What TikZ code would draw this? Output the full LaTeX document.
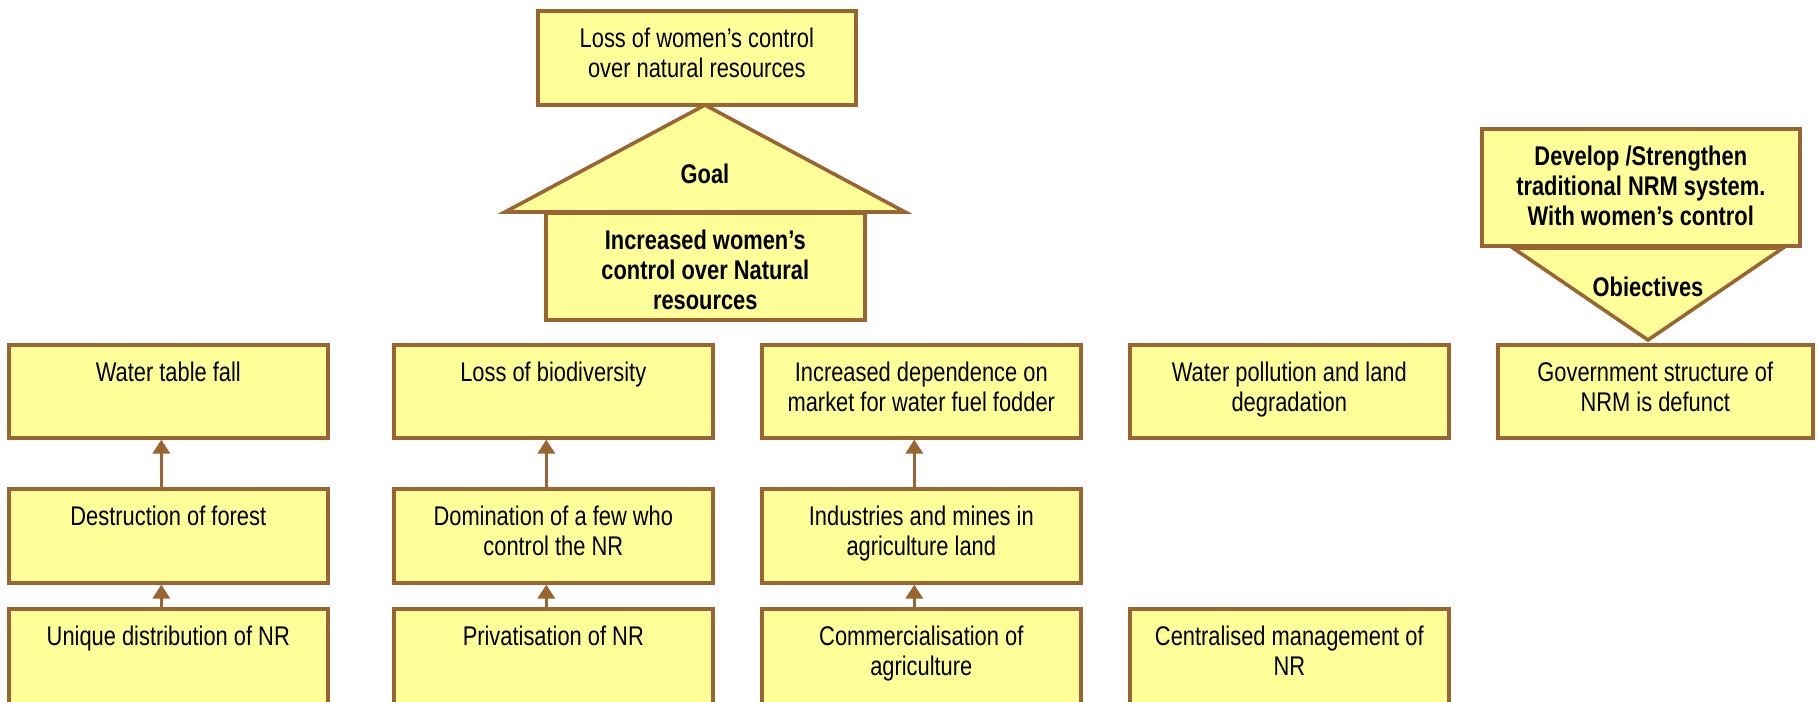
\documentclass[tikz,border=0pt]{standalone}
\usepackage{fontspec}
\setmainfont{Liberation Sans}[FakeStretch=0.81]
\usetikzlibrary{arrows.meta}
\definecolor{boxfill}{HTML}{FFFF99}
\definecolor{boxline}{HTML}{996633}
\newcommand{\topstrut}{\rule{0pt}{9.8pt}}
\begin{document}
\begin{tikzpicture}[x=0.5pt,y=-0.5pt,
  box/.style={draw=boxline, fill=boxfill, line width=1.8pt, inner sep=0pt,
              anchor=north west, minimum width=159.5pt},
  txt/.style={anchor=north, align=center, inner sep=0pt,
              font=\fontsize{13.5}{15}\selectfont},
  btxt/.style={txt, font=\fontsize{13.5}{15}\selectfont\bfseries},
  tri/.style={draw=boxline, fill=boxfill, line width=1.8pt, line join=miter},
  link/.style={draw=boxline, line width=1.8pt,
               -{Triangle[width=8.5pt,length=7pt]}}]
\useasboundingbox (0,0) rectangle (1817,702);

% goal triangle behind the boxes
\path[tri] (505,212) -- (705,105) -- (905,212) -- cycle;
% objectives triangle behind the boxes
\path[tri] (1513,248) -- (1648,340) -- (1783,248) -- cycle;

% goal block
\node[box, minimum width=159pt, minimum height=47pt] (top) at (536,9) {};
\node[txt] (top-t) at ([yshift=-9pt]top.north) {\topstrut Loss of women’s control\\over natural resources};
\node[box, minimum height=53.5pt] (goal) at (544,211) {};
\node[btxt] (goal-t) at ([yshift=-9pt]goal.north) {\topstrut Increased women’s\\control over Natural\\resources};
\node[anchor=base, inner sep=0pt, font=\fontsize{13.5}{15}\selectfont\bfseries] (goal-l) at (705,183) {Goal};

% objectives block
\node[box, minimum width=159pt, minimum height=58.5pt] (obj) at (1480,127) {};
\node[btxt] (obj-t) at ([yshift=-9pt]obj.north) {\topstrut Develop /Strengthen\\traditional NRM system.\\With women’s control};
\node[anchor=base, inner sep=0pt, font=\fontsize{13.5}{15}\selectfont\bfseries] (obj-l) at (1648,296) {Obiectives};

% row of problems
\node[box, minimum height=46.5pt] (p1) at (7,343) {};
\node[txt] (p1-t) at ([yshift=-9pt]p1.north) {\topstrut Water table fall};
\node[box, minimum height=46.5pt] (p2) at (392,343) {};
\node[txt] (p2-t) at ([yshift=-9pt]p2.north) {\topstrut Loss of biodiversity};
\node[box, minimum height=46.5pt] (p3) at (760,343) {};
\node[txt] (p3-t) at ([yshift=-9pt]p3.north) {\topstrut Increased dependence on\\market for water fuel fodder};
\node[box, minimum height=46.5pt] (p4) at (1128,343) {};
\node[txt] (p4-t) at ([yshift=-9pt]p4.north) {\topstrut Water pollution and land\\degradation};
\node[box, minimum width=157.5pt, minimum height=46.5pt] (p5) at (1496,343) {};
\node[txt] (p5-t) at ([yshift=-9pt]p5.north) {\topstrut Government structure of\\NRM is defunct};

% row of intermediate causes
\node[box, minimum height=47pt] (c1) at (7,487) {};
\node[txt] (c1-t) at ([yshift=-9pt]c1.north) {\topstrut Destruction of forest};
\node[box, minimum height=47pt] (c2) at (392,487) {};
\node[txt] (c2-t) at ([yshift=-9pt]c2.north) {\topstrut Domination of a few who\\control the NR};
\node[box, minimum height=47pt] (c3) at (760,487) {};
\node[txt] (c3-t) at ([yshift=-9pt]c3.north) {\topstrut Industries and mines in\\agriculture land};

% row of root causes
\node[box, minimum height=60pt] (r1) at (7,607) {};
\node[txt] (r1-t) at ([yshift=-9pt]r1.north) {\topstrut Unique distribution of NR};
\node[box, minimum height=60pt] (r2) at (392,607) {};
\node[txt] (r2-t) at ([yshift=-9pt]r2.north) {\topstrut Privatisation of NR};
\node[box, minimum height=60pt] (r3) at (760,607) {};
\node[txt] (r3-t) at ([yshift=-9pt]r3.north) {\topstrut Commercialisation of\\agriculture};
\node[box, minimum height=60pt] (r4) at (1128,607) {};
\node[txt] (r4-t) at ([yshift=-9pt]r4.north) {\topstrut Centralised management of\\NR};

% cause-effect arrows
\foreach \a/\b in {c1/p1, c2/p2, c3/p3, r1/c1, r2/c2, r3/c3}
  \draw[link] ([xshift=-3.5pt]\a.north) -- ([xshift=-3.5pt]\b.south);
\end{tikzpicture}
\end{document}
